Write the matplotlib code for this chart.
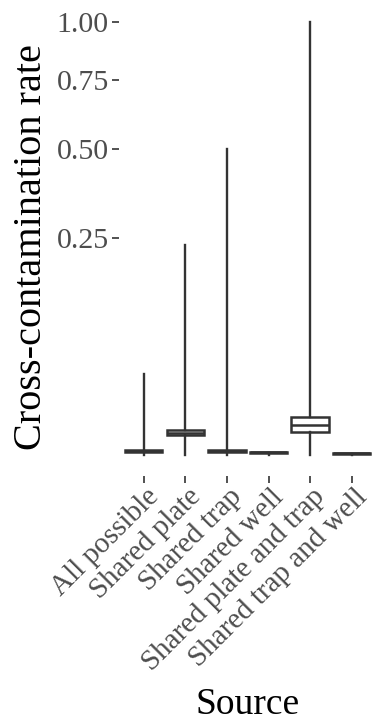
import numpy as np
import matplotlib
matplotlib.use("Agg")
import matplotlib.pyplot as plt
from matplotlib.transforms import ScaledTranslation

# Cross-contamination rate per source (box stats)
sources = ["All possible", "Shared plate", "Shared trap", "Shared well",
           "Shared plate and trap", "Shared trap and well"]
whislo = [0.0, 0.0, 0.0, 0.0, 0.0, 0.0]
q1 = [0.00003, 0.0021, 0.00003, 0.00001, 0.0027, 0.000005]
med = [0.00007, 0.0026, 0.00007, 0.00003, 0.0046, 0.00001]
q3 = [0.00013, 0.0032, 0.00013, 0.00005, 0.0074, 0.00002]
whishi = [0.035, 0.234, 0.5, 0.00005, 1.0, 0.00002]
yticks = [0.25, 0.50, 0.75, 1.00]

plt.rcParams['font.family'] = ['Liberation Serif', 'DejaVu Serif']


def fwd(y):
    return np.sign(y) * np.sqrt(np.abs(y))


def inv(y):
    return np.sign(y) * y ** 2


fig = plt.figure(figsize=(3.72, 7.25), dpi=100)
ax = fig.add_axes([118.7 / 372, 1 - 476.2 / 725, 258.0 / 372, 475.9 / 725])

stats = []
for i, name in enumerate(sources):
    stats.append(dict(label=name, whislo=whislo[i], q1=q1[i], med=med[i],
                      q3=q3[i], whishi=whishi[i], fliers=[]))

line_col = '#333333'
ax.bxp(stats, positions=np.arange(1, len(sources) + 1), widths=0.9,
       patch_artist=True, showcaps=False,
       boxprops=dict(facecolor='white', edgecolor=line_col, linewidth=1.8),
       medianprops=dict(color=line_col, linewidth=1.8),
       whiskerprops=dict(color=line_col, linewidth=1.7))

ax.set_yscale('function', functions=(fwd, inv))
ax.set_ylim(inv(-0.05), inv(1.05))
ax.set_xlim(0.4, 6.6)
ax.set_yticks(yticks)
ax.set_yticklabels([f"{v:.2f}" for v in yticks])
ax.yaxis.set_minor_locator(plt.NullLocator())

for s in ax.spines.values():
    s.set_visible(False)
ax.tick_params(axis='both', color=line_col, length=5, width=1.2,
               labelcolor='#4D4D4D', labelsize=21.5, pad=2)
ax.tick_params(axis='x', labelsize=21)
ax.set_xticks(np.arange(1, len(sources) + 1))
ax.set_xticklabels(sources, rotation=45, ha='right', va='top',
                   rotation_mode='anchor')
shift = ScaledTranslation(2 / 100, 2 / 100, fig.dpi_scale_trans)
for lab in ax.get_xticklabels():
    lab.set_transform(lab.get_transform() + shift)

ax.set_ylabel("Cross-contamination rate", fontsize=29)
ax.yaxis.set_label_coords(-0.268, 0.482)
ax.set_xlabel("Source", fontsize=27, labelpad=8)

fig.savefig("out.png", dpi=100)
